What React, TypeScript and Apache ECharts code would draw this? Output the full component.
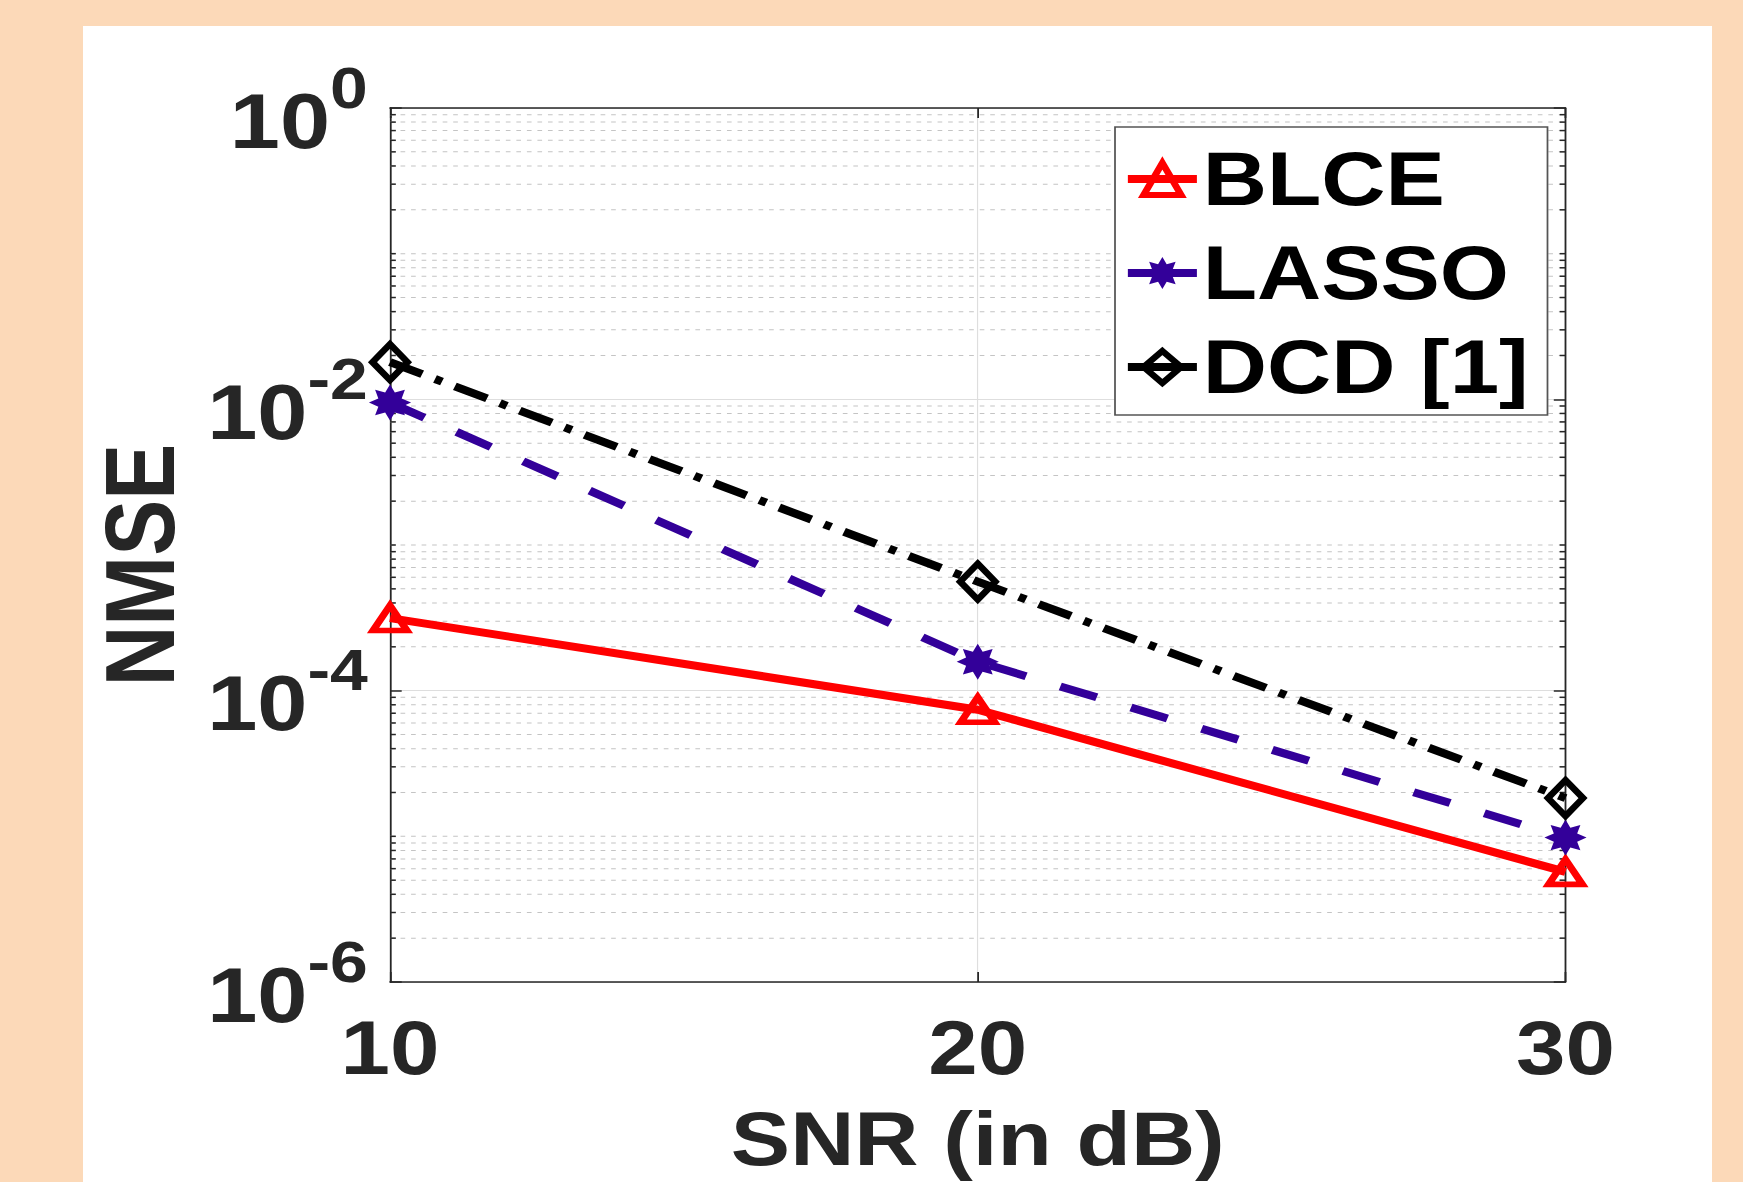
import React, { useEffect, useRef } from "react";
import * as echarts from "echarts";

// horizontal stretch of the reference picture
const S = 1.17;
const PAGE_W = 1743;
const PAGE_H = 1182;

const snrValues = [10, 20, 30];
const blceValues = [3.15e-4, 7.4e-5, 5.7e-6];
const lassoValues = [9.5e-3, 1.58e-4, 9.8e-6];
const dcdValues = [1.8e-2, 5.6e-4, 1.83e-5];
const seriesNames = ["BLCE", "LASSO", "DCD [1]"];
const xTickLabels = ["10", "20", "30"];
const yMinExp = -6;
const yMaxExp = 0;
const minorMantissas = [2, 3, 4, 5, 6, 7, 8, 9];
const minorDecades = [-6, -5, -4, -3, -2, -1];
const oddDecades = [-5, -3, -1];

const FONT = "'Liberation Sans', Arial, Helvetica, sans-serif";
const TXT = "#262626";

const starPath =
  "path://M10 0 L12.30 4.46 L17.07 2.93 L15.54 7.70 L20 10 L15.54 12.30 L17.07 17.07 L12.30 15.54 L10 20 L7.70 15.54 L2.93 17.07 L4.46 12.30 L0 10 L4.46 7.70 L2.93 2.93 L7.70 4.46 Z";

export default function App() {
  const ref = useRef<HTMLDivElement>(null);
  useEffect(() => {
    if (!ref.current) return;
    const chart = echarts.init(ref.current, undefined, { renderer: "svg" });
    const gridLeft = 390 / S;
    const gridRight = 1565.5 / S;
    const xMin = snrValues[0];
    const xMax = snrValues[snrValues.length - 1];

    const minorValues: number[] = [];
    minorDecades.forEach((d) =>
      minorMantissas.forEach((m) => minorValues.push(m * Math.pow(10, d)))
    );
    oddDecades.forEach((d) => minorValues.push(Math.pow(10, d)));

    const yFormatter = (v: number) => {
      const e = Math.round(Math.log10(v));
      return `{b|10}{e|${e}}`;
    };

    const option: any = {
      animation: false,
      backgroundColor: "#FCD9B8",
      textStyle: { fontFamily: FONT },
      graphic: [
        {
          type: "rect",
          z: -10,
          silent: true,
          shape: { x: 83 / S, y: 26, width: (1712 - 83) / S, height: PAGE_H - 26 },
          style: { fill: "#ffffff" },
        },
      ],
      grid: {
        left: gridLeft,
        top: 108,
        width: gridRight - gridLeft,
        height: 874,
        containLabel: false,
        outerBoundsMode: "none",
      },
      legend: {
        show: true,
        data: seriesNames,
        orient: "vertical",
        left: 1115 / S,
        top: 127,
        itemWidth: 59,
        itemHeight: 40,
        itemGap: 18,
        padding: [14, 16, 10, 7],
        backgroundColor: "#ffffff",
        borderColor: "#555555",
        borderWidth: 1.5,
        selectedMode: false,
        lineStyle: { type: "solid", width: 8 },
        itemStyle: { borderWidth: 6 },
        textStyle: {
          fontFamily: FONT,
          fontSize: 76,
          fontWeight: "bold",
          color: "#000000",
          lineHeight: 76,
        },
      },
      xAxis: [
        {
          type: "value",
          min: xMin,
          max: xMax,
          interval: 10,
          position: "bottom",
          name: "SNR (in dB)",
          nameLocation: "middle",
          nameGap: 121,
          nameTextStyle: {
            fontFamily: FONT,
            fontSize: 76,
            fontWeight: "bold",
            color: TXT,
            lineHeight: 72,
          },
          axisLine: { show: true, lineStyle: { color: TXT, width: 1.5 } },
          axisTick: { show: true, inside: true, length: 10, lineStyle: { color: TXT, width: 1.5 } },
          axisLabel: {
            show: true,
            margin: 28,
            fontFamily: FONT,
            fontSize: 76,
            fontWeight: "bold",
            color: TXT,
            lineHeight: 76,
            showMinLabel: true,
            showMaxLabel: true,
            formatter: (v: number) => xTickLabels[snrValues.indexOf(v)] ?? String(v),
          },
          splitLine: { show: true, lineStyle: { color: "#dedede", width: 1 } },
        },
        {
          type: "value",
          min: xMin,
          max: xMax,
          interval: 10,
          position: "top",
          axisLine: { show: true, lineStyle: { color: TXT, width: 1.5 } },
          axisTick: { show: true, inside: true, length: 10, lineStyle: { color: TXT, width: 1.5 } },
          axisLabel: { show: false },
          splitLine: { show: false },
        },
      ],
      yAxis: [
        {
          type: "log",
          logBase: 10,
          min: Math.pow(10, yMinExp),
          max: Math.pow(10, yMaxExp),
          interval: 2,
          position: "left",
          name: "NMSE",
          nameLocation: "middle",
          nameGap: 172,
          nameTextStyle: {
            fontFamily: FONT,
            fontSize: 84,
            fontWeight: "bold",
            color: TXT,
            lineHeight: 84,
            padding: [0, 40, 0, 0],
          },
          axisLine: { show: true, lineStyle: { color: TXT, width: 1.5 } },
          axisTick: { show: true, inside: true, length: 10, lineStyle: { color: TXT, width: 1.5 } },
          axisLabel: {
            show: true,
            margin: 19,
            showMinLabel: true,
            showMaxLabel: true,
            formatter: yFormatter,
            rich: {
              b: {
                fontFamily: FONT,
                fontSize: 77,
                fontWeight: "bold",
                color: TXT,
                lineHeight: 78,
                padding: [26, 0, 0, 0],
              },
              e: {
                fontFamily: FONT,
                fontSize: 58,
                fontWeight: "bold",
                color: TXT,
                lineHeight: 58,
                padding: [0, 0, 41, 0],
              },
            },
          },
          splitLine: { show: true, lineStyle: { color: "#dedede", width: 1 } },
        },
        {
          type: "log",
          logBase: 10,
          min: Math.pow(10, yMinExp),
          max: Math.pow(10, yMaxExp),
          interval: 2,
          position: "right",
          axisLine: { show: true, lineStyle: { color: TXT, width: 1.5 } },
          axisTick: { show: true, inside: true, length: 10, lineStyle: { color: TXT, width: 1.5 } },
          axisLabel: { show: false },
          splitLine: { show: false },
        },
      ],
      series: [
        {
          type: "custom",
          name: "minorGrid",
          xAxisIndex: 0,
          yAxisIndex: 0,
          z: 1,
          silent: true,
          data: minorValues.map((v) => [xMin, v]),
          renderItem: (params: any, api: any) => {
            const v = api.value(1);
            const a = api.coord([xMin, v]);
            const b = api.coord([xMax, v]);
            return {
              type: "group",
              children: [
                {
                  type: "line",
                  shape: { x1: a[0], y1: a[1], x2: b[0], y2: b[1] },
                  style: { stroke: "#c4c4c4", lineWidth: 1, lineDash: [4, 5] },
                },
                {
                  type: "line",
                  shape: { x1: a[0], y1: a[1], x2: a[0] + 5, y2: a[1] },
                  style: { stroke: TXT, lineWidth: 1.5 },
                },
                {
                  type: "line",
                  shape: { x1: b[0] - 5, y1: b[1], x2: b[0], y2: b[1] },
                  style: { stroke: TXT, lineWidth: 1.5 },
                },
              ],
            };
          },
        },
        {
          type: "line",
          name: seriesNames[0],
          z: 5,
          data: snrValues.map((x, i) => [x, blceValues[i]]),
          symbol: "triangle",
          symbolSize: [29, 25],
          showAllSymbol: true,
          lineStyle: { color: "#ff0000", width: 8, type: "solid" },
          itemStyle: { color: "rgba(255,255,255,0)", borderColor: "#ff0000", borderWidth: 6 },
        },
        {
          type: "line",
          name: seriesNames[1],
          z: 5,
          data: snrValues.map((x, i) => [x, lassoValues[i]]),
          symbol: starPath,
          symbolSize: 36,
          lineStyle: { color: "#330099", width: 8, type: [33, 31] },
          itemStyle: { color: "#330099", borderWidth: 0 },
        },
        {
          type: "line",
          name: seriesNames[2],
          z: 5,
          data: snrValues.map((x, i) => [x, dcdValues[i]]),
          symbol: "diamond",
          symbolSize: [30, 36],
          lineStyle: { color: "#000000", width: 8, type: [30, 12, 6.5, 12] },
          itemStyle: { color: "rgba(255,255,255,0)", borderColor: "#000000", borderWidth: 6 },
        },
      ],
    };
    chart.setOption(option);
    return () => chart.dispose();
  }, []);

  return (
    <div
      style={{
        position: "fixed",
        left: 0,
        top: 0,
        width: PAGE_W,
        height: PAGE_H,
        overflow: "hidden",
        background: "#FCD9B8",
      }}
    >
      <div
        ref={ref}
        style={{
          width: PAGE_W / S,
          height: PAGE_H,
          transform: `scaleX(${S})`,
          transformOrigin: "0 0",
        }}
      />
    </div>
  );
}
